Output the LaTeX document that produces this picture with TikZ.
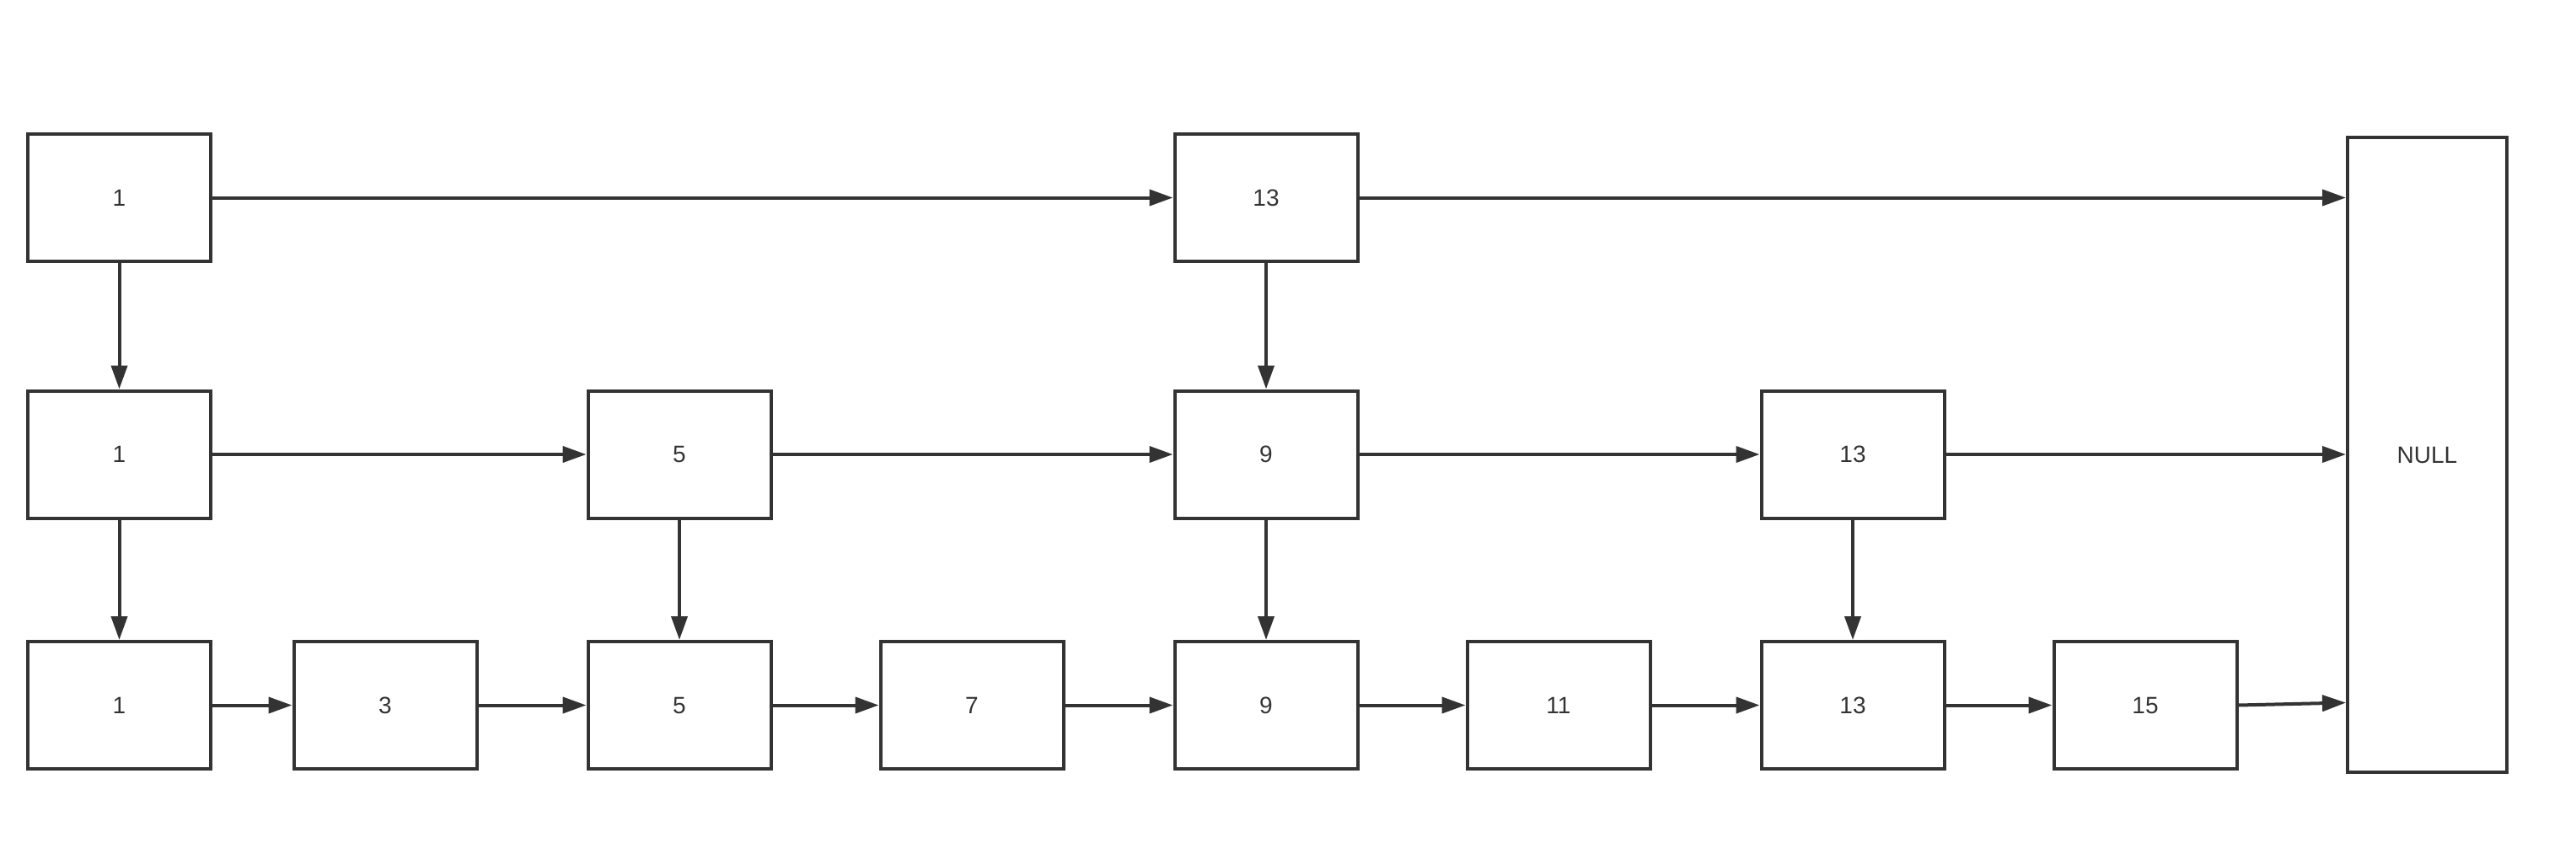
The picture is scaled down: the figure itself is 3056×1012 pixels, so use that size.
\documentclass[tikz,border=0pt]{standalone}
\usepackage{fontspec}
\setmainfont{Liberation Sans}
\usetikzlibrary{arrows.meta}
\definecolor{ink}{HTML}{333333}
\tikzset{
  listbox/.style={draw=ink, line width=4pt, minimum width=217pt, minimum height=151pt, inner sep=0pt, text=ink, font=\fontsize{28}{34}\selectfont},
  nullbox/.style={listbox, minimum width=189pt, minimum height=753pt},
  link/.style={draw=ink, line width=4pt, -{Triangle[length=28pt,width=19pt]}}
}
\begin{document}
\begin{tikzpicture}[x=1pt,y=-1pt]
\useasboundingbox (0,0) rectangle (3056,1012);
% row 1
\node[listbox] (a1) at (141.5,234.5) {1};
\node[listbox] (a13) at (1502,234.5) {13};
% row 2
\node[listbox] (b1) at (141.5,539) {1};
\node[listbox] (b5) at (806,539) {5};
\node[listbox] (b9) at (1502,539) {9};
\node[listbox] (b13) at (2198,539) {13};
% row 3
\node[listbox] (c1) at (141.5,836.5) {1};
\node[listbox] (c3) at (457,836.5) {3};
\node[listbox] (c5) at (806,836.5) {5};
\node[listbox] (c7) at (1153,836.5) {7};
\node[listbox] (c9) at (1502,836.5) {9};
\node[listbox] (c11) at (1849,836.5) {11};
\node[listbox] (c13) at (2198,836.5) {13};
\node[listbox] (c15) at (2545,836.5) {15};
% NULL
\node[nullbox] (nul) at (2879.5,539.5) {NULL};
% horizontal links
\draw[link] (a1) -- (a13);
\draw[link] (a13.east) -- (a13.east -| nul.west);
\draw[link] (b1) -- (b5);
\draw[link] (b5) -- (b9);
\draw[link] (b9) -- (b13);
\draw[link] (b13.east) -- (b13.east -| nul.west);
\draw[link] (c1) -- (c3);
\draw[link] (c3) -- (c5);
\draw[link] (c5) -- (c7);
\draw[link] (c7) -- (c9);
\draw[link] (c9) -- (c11);
\draw[link] (c11) -- (c13);
\draw[link] (c13) -- (c15);
\draw[link] (c15.east) -- ([yshift=3pt]c15.east -| nul.west);
% vertical links
\draw[link] (a1) -- (b1);
\draw[link] (b1) -- (c1);
\draw[link] (b5) -- (c5);
\draw[link] (a13) -- (b9);
\draw[link] (b9) -- (c9);
\draw[link] (b13) -- (c13);
\end{tikzpicture}
\end{document}
